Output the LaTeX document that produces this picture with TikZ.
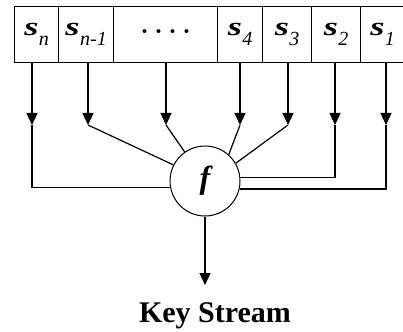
\documentclass[tikz,border=0pt]{standalone}
\usepackage{fontspec}
\setmainfont{Liberation Serif}
\usetikzlibrary{arrows.meta}

% register bit label: a wide bold italic s with a lowered italic index
\newcommand{\regbit}[1]{\scalebox{1.4}[1]{\fontsize{26}{26}\selectfont\bfseries\itshape s}\kern0.5pt\raisebox{-10pt}{\fontsize{20}{20}\selectfont\itshape #1}}

\begin{document}
\begin{tikzpicture}[x=1pt,y=-1pt,
  every path/.style={line width=1.2pt},
  cell/.style={draw,rectangle,minimum height=56pt,inner sep=0pt,anchor=north west},
  feed/.style={-{Triangle[width=11pt,length=12pt]}},
  fbox/.style={draw,circle,minimum size=70pt,inner sep=0pt,line width=1pt}]
\useasboundingbox (0,0) rectangle (403,331);

% shift register cells
\node[cell,minimum width=44pt]  (c1) at (14,6)  {\regbit{n}};
\node[cell,minimum width=55pt]  (c2) at (58,6)  {\regbit{n-1}};
\node[cell,minimum width=104pt] (c3) at (113,6) {\fontsize{24}{24}\selectfont\bfseries · · · ·};
\node[cell,minimum width=45pt]  (c4) at (217,6) {\regbit{4}};
\node[cell,minimum width=49pt]  (c5) at (262,6) {\regbit{3}};
\node[cell,minimum width=49pt]  (c6) at (311,6) {\regbit{2}};
\node[cell,minimum width=44pt]  (c7) at (360,6) {\regbit{1}};

% combining function
\node[fbox] (f) at (205,181) {\fontsize{32}{32}\selectfont\bfseries\itshape f};

% arrow tips of the taps
\coordinate (t1) at (32,125);
\coordinate (t2) at (88,125);
\coordinate (t3) at (166,125);
\coordinate (t4) at (240,125);
\coordinate (t5) at (288,125);
\coordinate (t6) at (335,125);
\coordinate (t7) at (386,125);

\foreach \i in {1,...,7}
  \draw[feed] (c\i.south -| t\i) -- (t\i);

% taps into f
\draw (t1) |- (f.190);
\draw (t2) -- (f.153);
\draw (t3) -- (f.125);
\draw (t4) -- (f.48);
\draw (t5) -- (f.30);
\draw (t6) |- (f.6);
\draw (t7) |- (f.-13);

% output
\coordinate (out) at (205,285);
\draw[feed] (f.south) -- (out);
\node[anchor=base,inner sep=0pt] (ks) at (215,322) {\fontsize{30}{30}\selectfont\bfseries Key Stream};
\end{tikzpicture}
\end{document}
